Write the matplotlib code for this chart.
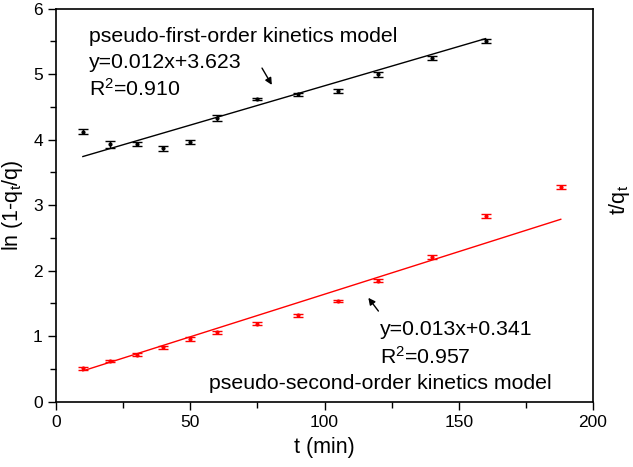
import numpy as np
import matplotlib.pyplot as plt
from matplotlib.ticker import MultipleLocator

plt.rcParams['font.family'] = ['Liberation Sans', 'DejaVu Sans']
plt.rcParams['mathtext.fontset'] = 'custom'
plt.rcParams['mathtext.rm'] = 'Liberation Sans'
plt.rcParams['mathtext.it'] = 'Liberation Sans'
plt.rcParams['mathtext.default'] = 'regular'

# pseudo-first-order data (black)
t_first = [10, 20, 30, 40, 50, 60, 75, 90, 105, 120, 140, 160]
y_first = [4.12, 3.93, 3.93, 3.87, 3.97, 4.33, 4.62, 4.69, 4.75, 5.00, 5.25, 5.50]
err_first = [0.04, 0.05, 0.03, 0.04, 0.03, 0.04, 0.02, 0.03, 0.03, 0.04, 0.03, 0.03]
fit_first = (0.012, 3.623)

# pseudo-second-order data (red)
t_second = [10, 20, 30, 40, 50, 60, 75, 90, 105, 120, 140, 160, 188]
y_second = [0.51, 0.62, 0.72, 0.83, 0.96, 1.06, 1.19, 1.32, 1.54, 1.85, 2.21, 2.84, 3.28]
err_second = [0.02, 0.02, 0.02, 0.02, 0.03, 0.02, 0.02, 0.02, 0.02, 0.03, 0.03, 0.03, 0.03]
fit_second = (0.013, 0.341)

fig = plt.figure(figsize=(6.33, 4.67), dpi=100)
ax = fig.add_axes([0.0885, 0.1398, 0.8483, 0.8416])

ax.errorbar(t_first, y_first, yerr=err_first, fmt='o', ms=2, color='black',
            ecolor='black', elinewidth=1, capsize=3.5, capthick=1)
ax.errorbar(t_second, y_second, yerr=err_second, fmt='o', ms=2, color='red',
            ecolor='red', elinewidth=1, capsize=3.5, capthick=1)

x1 = np.array([t_first[0], t_first[-1]])
ax.plot(x1, fit_first[0] * x1 + fit_first[1], color='black', lw=1)
x2 = np.array([t_second[0], t_second[-1]])
ax.plot(x2, fit_second[0] * x2 + fit_second[1], color='red', lw=1)

ax.set_xlim(0, 200)
ax.set_ylim(0, 6)
ax.xaxis.set_major_locator(MultipleLocator(50))
ax.xaxis.set_minor_locator(MultipleLocator(25))
ax.yaxis.set_major_locator(MultipleLocator(1))
ax.yaxis.set_minor_locator(MultipleLocator(0.5))
ax.tick_params(which='major', direction='out', length=6, width=1, labelsize=12.5)
ax.tick_params(which='minor', direction='out', length=4, width=1)
for s in ax.spines.values():
    s.set_linewidth(1.2)

ax.set_xlabel('t (min)', fontsize=15.5, labelpad=5)
ax.set_ylabel('ln (1-q$_t$/q)', fontsize=15.5, labelpad=6)
fig.text(0.978, 0.572, 't/q$_t$', rotation=90, fontsize=15.5, ha='center', va='center')

fs = 15.3
ax.text(12.3, 5.576, 'pseudo-first-order kinetics model', fontsize=fs, va='center')
ax.text(12.3, 5.186, 'y=0.012x+3.623', fontsize=fs, va='center')
ax.text(12.3, 4.78, 'R$^2$=0.910', fontsize=fs, va='center')
ax.annotate('', xy=(80.9, 4.80), xytext=(76.2, 5.13),
            arrowprops=dict(arrowstyle='-|>', color='black', lw=1, mutation_scale=10))

ax.text(120.7, 1.11, 'y=0.013x+0.341', fontsize=fs, va='center')
ax.text(120.7, 0.68, 'R$^2$=0.957', fontsize=fs, va='center')
ax.text(57, 0.285, 'pseudo-second-order kinetics model', fontsize=fs, va='center')
ax.annotate('', xy=(115.7, 1.62), xytext=(120.7, 1.35),
            arrowprops=dict(arrowstyle='-|>', color='black', lw=1, mutation_scale=10))

fig.savefig('out.png', dpi=100)
